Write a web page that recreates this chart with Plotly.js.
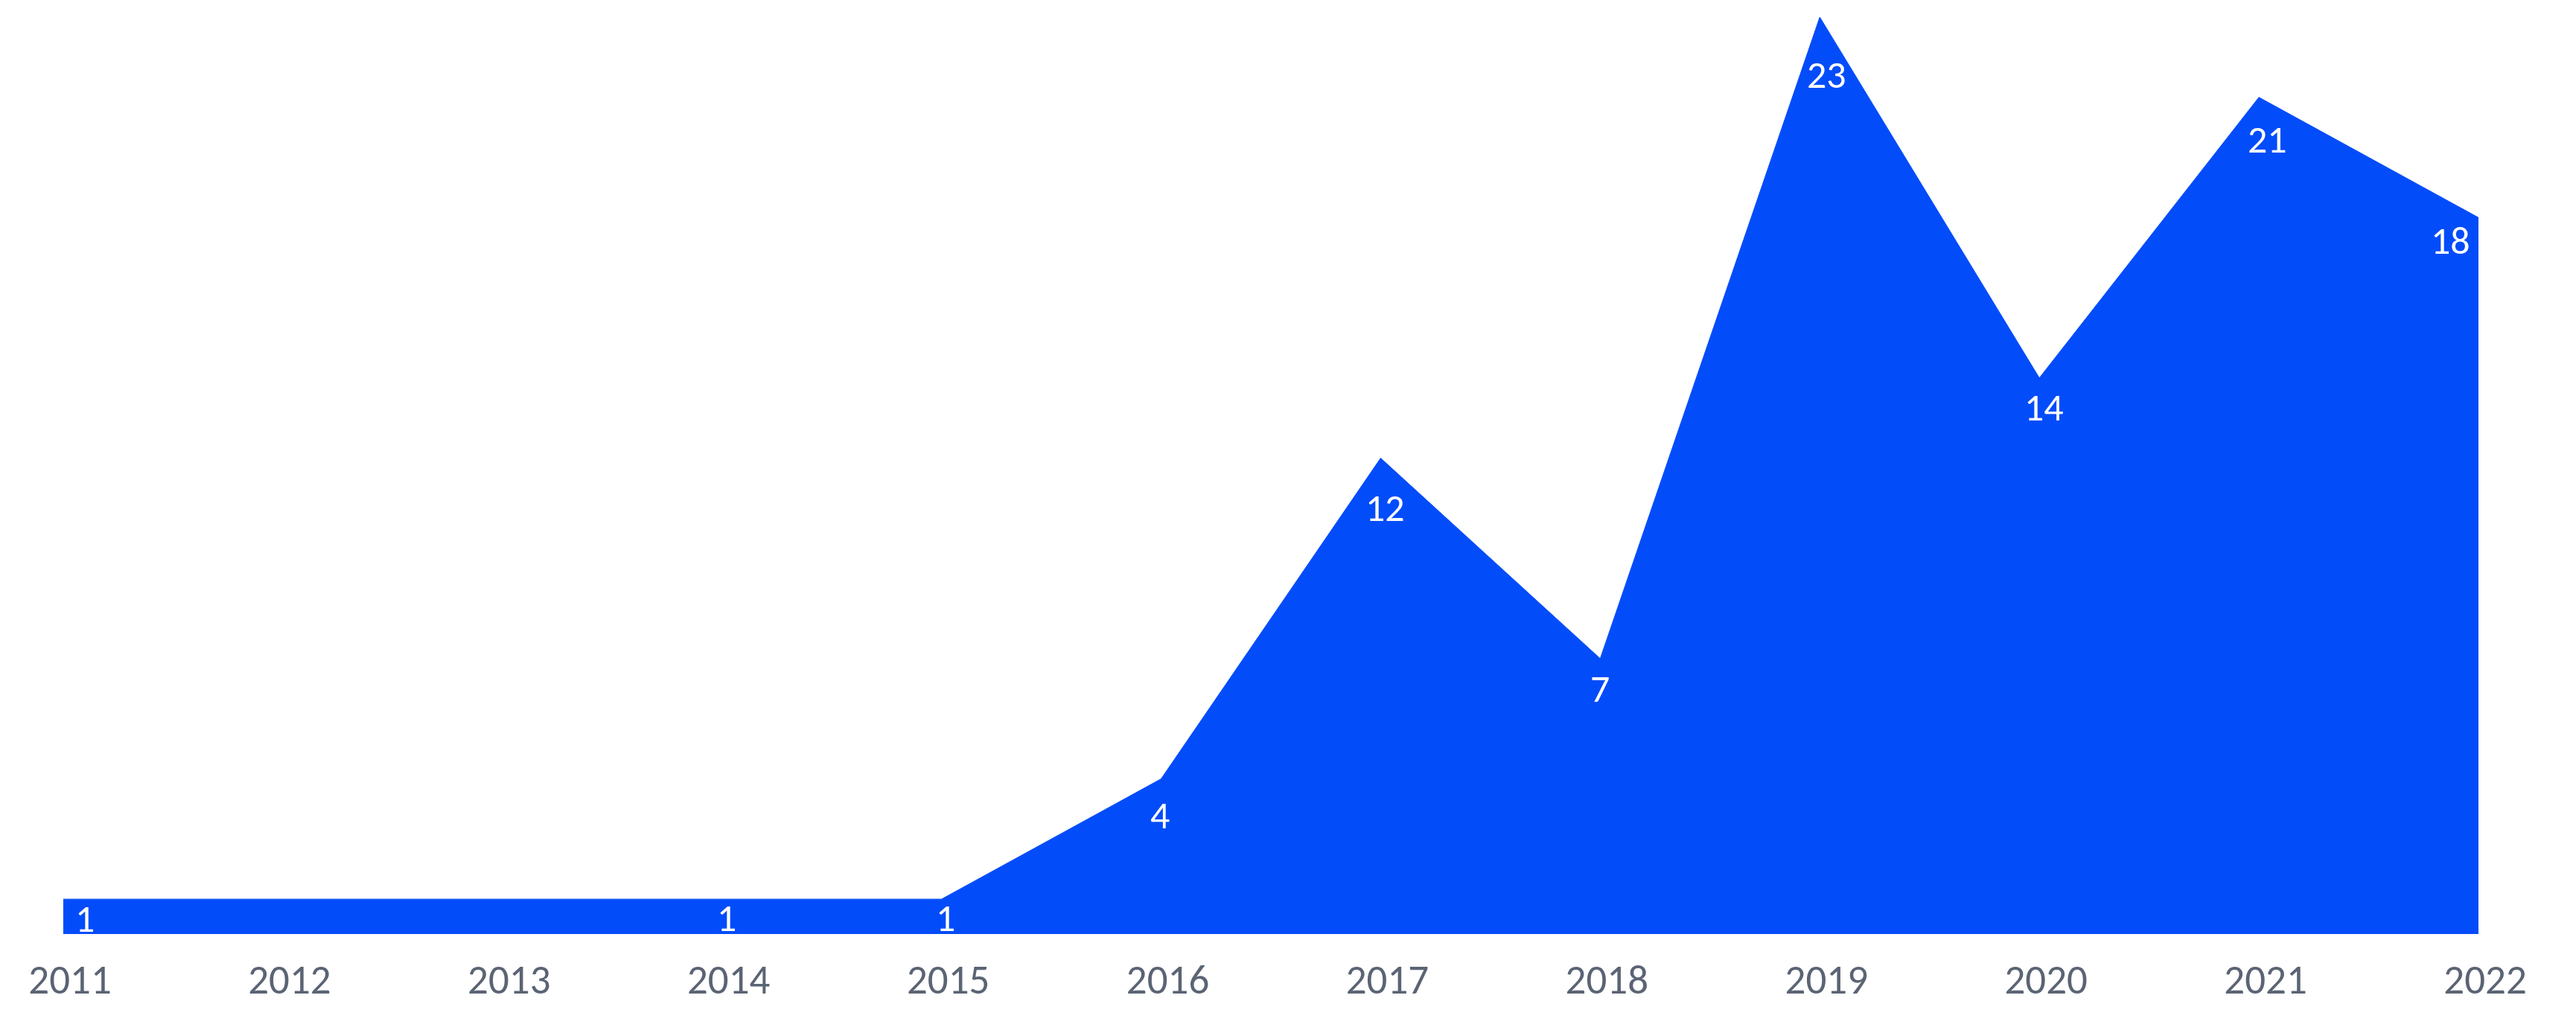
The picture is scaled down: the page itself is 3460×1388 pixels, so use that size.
<!DOCTYPE html>
<html>
<head>
<meta charset="utf-8">
<script src="https://cdn.plot.ly/plotly-3.0.1.min.js"></script>
<style>
html, body { margin: 0; padding: 0; background: #ffffff; }
#chart { width: 3460px; height: 1388px; }
</style>
</head>
<body>
<div id="chart"></div>
<script>
// yearly counts (2012 and 2013 have no point, the area just runs across)
const years = [2011, 2014, 2015, 2016, 2017, 2018, 2019, 2020, 2021, 2022];
const counts = [1, 1, 1, 4, 12, 7, 23, 14, 21, 18];
const tickYears = [2011, 2012, 2013, 2014, 2015, 2016, 2017, 2018, 2019, 2020, 2021, 2022];
const tickLabels = tickYears.map(String);

// how far each value label sits under its point (px), and sideways nudge
const labelDrop = [26, 25, 25, 48, 66, 40, 77, 39, 56, 31];
const labelShift = [29, 6, 5, -2, 6, 0, 9, 6, 11, -38];

const blue = "#034CFA";
const labelFont = "Carlito, Calibri, 'Open Sans', sans-serif";

const area = {
    x: years,
    y: counts,
    type: "scatter",
    mode: "lines",
    fill: "tozeroy",
    fillcolor: blue,
    line: { color: blue, width: 1, shape: "linear" },
    hoverinfo: "skip"
};

const valueLabels = years.map(function (yr, i) {
    return {
        x: yr,
        y: counts[i],
        xref: "x",
        yref: "y",
        text: String(counts[i]),
        showarrow: false,
        xanchor: "center",
        yanchor: "middle",
        yshift: -labelDrop[i],
        xshift: labelShift[i],
        font: { family: labelFont, size: 52, color: "#ffffff" }
    };
});

const layout = {
    width: 3460,
    height: 1388,
    margin: { l: 85, r: 131, t: 23, b: 133 },
    paper_bgcolor: "#ffffff",
    plot_bgcolor: "#ffffff",
    showlegend: false,
    xaxis: {
        range: [2011, 2022],
        tickvals: tickYears,
        ticktext: tickLabels,
        showgrid: false,
        zeroline: false,
        showline: false,
        ticks: "",
        ticklabelstandoff: 24,
        ticklabelshift: 9,
        tickfont: { family: labelFont, size: 55, color: "#5B6474" },
        fixedrange: true
    },
    yaxis: {
        range: [0.13, 23],
        visible: false,
        showgrid: false,
        zeroline: false,
        fixedrange: true
    },
    annotations: valueLabels
};

Plotly.newPlot("chart", [area], layout, { displayModeBar: false, staticPlot: true });
</script>
</body>
</html>
